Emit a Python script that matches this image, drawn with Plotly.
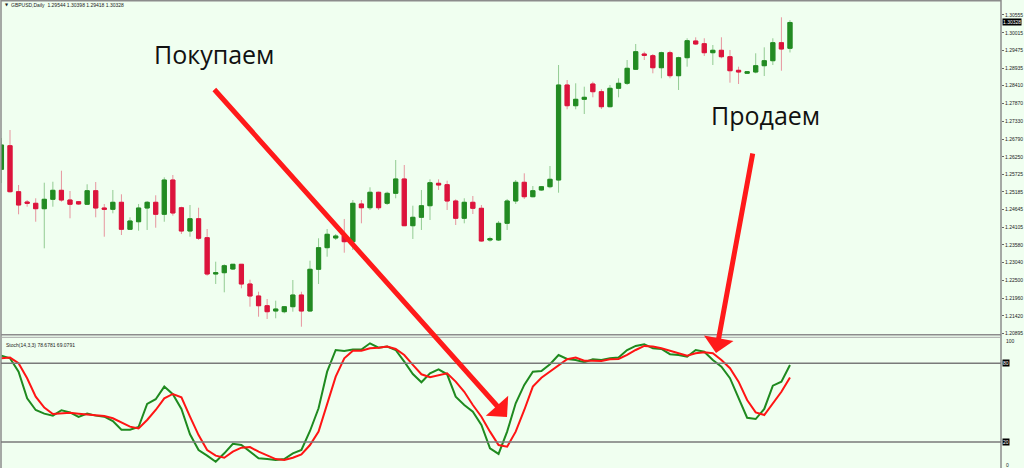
import plotly.graph_objects as go

# ---------------- data ----------------
idx = list(range(93))

opens = [1.25872, 1.26588, 1.25192, 1.24879, 1.24840, 1.24676, 1.24961, 1.25234, 1.24940, 1.24889,
         1.24810, 1.25222, 1.24697, 1.24658, 1.24870, 1.24051, 1.24281, 1.24697, 1.24870, 1.24506,
         1.25547, 1.24706, 1.23999, 1.24372, 1.23796, 1.22694, 1.22734, 1.22846, 1.22989, 1.22391,
         1.22027, 1.21732, 1.21571, 1.21550, 1.21702, 1.22057, 1.21571, 1.22837, 1.23493, 1.23787,
         1.23848, 1.23675, 1.24819, 1.24706, 1.25174, 1.24840, 1.25143, 1.25578, 1.24160, 1.24415,
         1.24767, 1.25447, 1.25405, 1.24910, 1.24385, 1.24870, 1.24688, 1.23726, 1.23726, 1.24233,
         1.24910, 1.25477, 1.25040, 1.25244, 1.25344, 1.25547, 1.28430, 1.27802, 1.27996, 1.28461,
         1.28227, 1.27772, 1.28330, 1.28482, 1.28907, 1.29371, 1.29320, 1.28955, 1.29411, 1.28713,
         1.29259, 1.29766, 1.29684, 1.29411, 1.29483, 1.29289, 1.28876, 1.28785, 1.28825, 1.29016,
         1.29168, 1.29714, 1.29544]

highs = [1.26822, 1.27064, 1.25395, 1.24940, 1.24992, 1.25465, 1.25495, 1.25829, 1.25213, 1.24910,
         1.25417, 1.25486, 1.24819, 1.25244, 1.25113, 1.24415, 1.24819, 1.24910, 1.25083, 1.25629,
         1.25699, 1.24737, 1.24788, 1.24706, 1.24060, 1.23068, 1.22989, 1.22998, 1.22998, 1.22521,
         1.22157, 1.21936, 1.21884, 1.21710, 1.22512, 1.22157, 1.23098, 1.23778, 1.24060, 1.23908,
         1.24364, 1.24940, 1.24940, 1.25326, 1.25192, 1.25192, 1.26154, 1.26002, 1.24767, 1.25244,
         1.25568, 1.25568, 1.25526, 1.24961, 1.24992, 1.25062, 1.24788, 1.23826, 1.24303, 1.24971,
         1.25547, 1.25750, 1.25365, 1.25360, 1.25972, 1.29037, 1.28582, 1.28482, 1.28379, 1.28530,
         1.28300, 1.28430, 1.28634, 1.29189, 1.29675, 1.29441, 1.29371, 1.29441, 1.29471, 1.29289,
         1.29848, 1.29878, 1.29848, 1.29644, 1.29878, 1.29493, 1.28986, 1.28850, 1.29392, 1.29574,
         1.29848, 1.30485, 1.30398]

lows = [1.25456, 1.25168, 1.24506, 1.24737, 1.24281, 1.23474, 1.24737, 1.24889, 1.24385, 1.24798,
        1.24788, 1.24415, 1.23826, 1.24536, 1.23878, 1.24030, 1.24008, 1.24030, 1.24099, 1.24281,
        1.24464, 1.23908, 1.23826, 1.23726, 1.22643, 1.22391, 1.22139, 1.22816, 1.22260, 1.21702,
        1.21398, 1.21329, 1.21350, 1.21502, 1.21550, 1.21095, 1.21550, 1.22391, 1.23219, 1.23726,
        1.23341, 1.23423, 1.24233, 1.24637, 1.24637, 1.24788, 1.24992, 1.24150, 1.23757, 1.24030,
        1.24333, 1.25244, 1.24637, 1.24181, 1.24233, 1.24515, 1.23675, 1.23675, 1.23696, 1.24030,
        1.24819, 1.24971, 1.25022, 1.25222, 1.25295, 1.25162, 1.27693, 1.27693, 1.27550, 1.28057,
        1.27702, 1.27754, 1.28057, 1.28430, 1.28886, 1.29189, 1.28785, 1.28634, 1.28634, 1.28279,
        1.28986, 1.29644, 1.29310, 1.29037, 1.29241, 1.28500, 1.28461, 1.28764, 1.28785, 1.28703,
        1.29037, 1.28864, 1.29418]

closes = [1.26609, 1.25192, 1.24788, 1.24840, 1.24676, 1.24961, 1.25234, 1.24940, 1.24810, 1.24819,
          1.25222, 1.24697, 1.24658, 1.24870, 1.24051, 1.24303, 1.24697, 1.24870, 1.24506, 1.25547,
          1.24546, 1.23999, 1.24372, 1.23778, 1.22694, 1.22734, 1.22946, 1.22989, 1.22391, 1.22027,
          1.21732, 1.21550, 1.21632, 1.21702, 1.22057, 1.21571, 1.22837, 1.23493, 1.23899, 1.23848,
          1.23675, 1.24840, 1.24706, 1.25174, 1.24706, 1.25143, 1.25578, 1.24160, 1.24415, 1.24767,
          1.25465, 1.25395, 1.24910, 1.24385, 1.24870, 1.24688, 1.23696, 1.23766, 1.24233, 1.24910,
          1.25477, 1.25040, 1.25222, 1.25344, 1.25568, 1.28430, 1.27802, 1.27996, 1.28057, 1.28227,
          1.27772, 1.28330, 1.28482, 1.28937, 1.29441, 1.29332, 1.28955, 1.29411, 1.28713, 1.29259,
          1.29775, 1.29675, 1.29411, 1.29483, 1.29289, 1.28864, 1.28825, 1.28834, 1.29016, 1.29168,
          1.29714, 1.29523, 1.30328]

stoch_k = [85.8, 83.8, 73.6, 53.3, 44.4, 41.6, 40.1, 44.2, 42.6, 39.1,
           41.6, 40.1, 39.3, 36.0, 29.4, 29.4, 31.4, 49.0, 52.6, 62.2,
           56.4, 45.2, 25.9, 13.9, 9.6, 5.0, 11.4, 18.7, 17.7, 12.9,
           7.6, 7.0, 6.3, 7.0, 11.4, 13.9, 28.4, 45.7, 73.6, 90.1,
           89.4, 90.4, 90.4, 95.2, 91.9, 92.7, 90.1, 81.2, 71.8, 65.5,
           72.4, 75.4, 71.6, 54.5, 48.2, 43.1, 33.0, 15.2, 10.9, 27.9,
           49.5, 63.5, 73.6, 74.1, 79.2, 86.3, 83.3, 82.5, 80.8, 83.0,
           82.5, 83.8, 84.3, 90.1, 93.2, 94.5, 91.4, 90.9, 86.9, 86.3,
           85.0, 90.1, 88.8, 82.5, 77.4, 68.6, 53.3, 38.5, 37.5, 45.2,
           62.9, 66.0, 78.68]

stoch_d = [83.8, 84.3, 80.0, 68.6, 54.5, 46.2, 41.3, 41.6, 42.3, 41.6,
           41.1, 40.1, 39.8, 38.1, 35.0, 31.7, 30.4, 36.8, 44.4, 53.3,
           56.6, 54.1, 39.3, 25.3, 13.9, 9.6, 8.0, 12.6, 15.7, 16.2,
           12.6, 9.6, 7.0, 6.3, 8.0, 10.6, 17.7, 27.9, 49.5, 69.8,
           83.8, 89.6, 89.6, 91.4, 91.9, 92.7, 90.9, 86.3, 78.7, 71.6,
           69.3, 71.1, 72.4, 66.0, 58.3, 48.2, 39.3, 27.9, 17.7, 16.4,
           27.9, 44.4, 62.2, 69.0, 73.6, 78.7, 83.0, 84.3, 82.0, 82.0,
           81.8, 83.0, 83.3, 86.3, 90.1, 93.2, 92.7, 91.4, 89.4, 87.6,
           85.8, 87.6, 88.4, 87.6, 82.5, 76.2, 66.0, 52.0, 42.6, 40.6,
           49.5, 58.3, 69.08]

price_ticks = [1.30555, 1.30015, 1.29475, 1.28935, 1.28410, 1.27870, 1.27330, 1.26790,
               1.26250, 1.25725, 1.25185, 1.24645, 1.24105, 1.23580, 1.23040, 1.22500,
               1.21960, 1.21420, 1.20895]
price_tick_text = ["%.5f" % v for v in price_ticks]

stoch_levels = [80, 20]
title_text = "GBPUSD,Daily  1.29544 1.30398 1.29418 1.30328"
stoch_text = "Stoch(14,3,3) 78.6781 69.0791"
buy_text = "Покупаем"
sell_text = "Продаем"

# ---------------- colours ----------------
BG = "#F0FFF0"
UP = "#228B22"
DN = "#DC143C"

body_hi = [max(o, c) for o, c in zip(opens, closes)]
body_lo = [min(o, c) for o, c in zip(opens, closes)]

fig = go.Figure()

# wicks (light)
fig.add_trace(go.Candlestick(
    x=idx, open=opens, high=highs, low=lows, close=closes,
    increasing=dict(line=dict(color="rgba(34,139,34,0.45)", width=1), fillcolor="rgba(0,0,0,0)"),
    decreasing=dict(line=dict(color="rgba(220,20,60,0.45)", width=1), fillcolor="rgba(0,0,0,0)"),
    whiskerwidth=0, hoverinfo="skip", xaxis="x", yaxis="y"))
# bodies (solid)
fig.add_trace(go.Candlestick(
    x=idx, open=opens, high=body_hi, low=body_lo, close=closes,
    increasing=dict(line=dict(color=UP, width=1), fillcolor=UP),
    decreasing=dict(line=dict(color=DN, width=1), fillcolor=DN),
    whiskerwidth=0, hoverinfo="skip", xaxis="x", yaxis="y"))

fig.add_trace(go.Scatter(x=idx, y=stoch_k, mode="lines",
                         line=dict(color="#1F8A1F", width=2), xaxis="x", yaxis="y2"))
fig.add_trace(go.Scatter(x=idx, y=stoch_d, mode="lines",
                         line=dict(color="#FF1414", width=2), xaxis="x", yaxis="y2"))

H = 468.0
def py(p):
    return 1 - p / H
def px(p):
    return (p - 1) / 1000.0

shapes = []
# frame lines
shapes.append(dict(type="line", xref="paper", yref="paper", x0=1.0, x1=1.0, y0=0, y1=1,
                   line=dict(color="#8C8C8C", width=1.5)))
shapes.append(dict(type="line", xref="paper", yref="paper", x0=0.0, x1=0.0, y0=0, y1=1,
                   line=dict(color="#8C8C8C", width=1.5)))
shapes.append(dict(type="line", xref="paper", yref="paper", x0=0, x1=1, y0=py(0.8), y1=py(0.8),
                   line=dict(color="#8C8C8C", width=1.5)))
shapes.append(dict(type="line", xref="paper", yref="paper", x0=0, x1=1, y0=py(334.8), y1=py(334.8),
                   line=dict(color="#8C8C8C", width=1.5)))
shapes.append(dict(type="line", xref="paper", yref="paper", x0=0, x1=1, y0=py(337.3), y1=py(337.3),
                   line=dict(color="#A8A8A8", width=1)))
for lv in stoch_levels:
    shapes.append(dict(type="line", xref="paper", yref="y2", x0=0, x1=1, y0=lv, y1=lv,
                       line=dict(color="#7A7A7A", width=1.5)))

small = dict(family="Liberation Sans", size=5, color="#222222")
annotations = [
    dict(text=title_text, xref="paper", yref="paper", x=px(9), y=py(5), xanchor="left",
         yanchor="middle", showarrow=False, font=small),
    dict(text="▼", xref="paper", yref="paper", x=px(3), y=py(5), xanchor="left",
         yanchor="middle", showarrow=False, font=dict(family="DejaVu Sans", size=4, color="#222")),
    dict(text=stoch_text, xref="paper", yref="paper", x=px(4), y=py(345), xanchor="left",
         yanchor="middle", showarrow=False, font=small),
    dict(text="100", xref="paper", yref="paper", x=px(1004), y=py(340.5), xanchor="left",
         yanchor="middle", showarrow=False, font=small),
    dict(text="0", xref="paper", yref="paper", x=px(1004), y=py(465), xanchor="left",
         yanchor="middle", showarrow=False, font=small),
    dict(text="1.30328", xref="paper", yref="y", x=px(1002), y=closes[-1], xanchor="left",
         yanchor="middle", showarrow=False, bgcolor="#000000", borderpad=0,
         font=dict(family="Liberation Sans", size=5, color="#FFFFFF")),
    dict(text=buy_text, xref="paper", yref="paper", x=px(213.5), y=py(54), xanchor="center",
         yanchor="middle", showarrow=False, font=dict(family="Open Sans", size=25, color="#111111")),
    dict(text=sell_text, xref="paper", yref="paper", x=px(765.5), y=py(115), xanchor="center",
         yanchor="middle", showarrow=False, font=dict(family="Open Sans", size=25, color="#111111")),
    # arrows
    dict(text="", xref="paper", yref="paper", x=px(507), y=py(417), ax=213 - 507, ay=88 - 417,
         axref="pixel", ayref="pixel", showarrow=True, arrowhead=1, arrowsize=1.0,
         arrowwidth=5, arrowcolor="#FF1A1A", standoff=0),
    dict(text="", xref="paper", yref="paper", x=px(716), y=py(353), ax=753 - 716, ay=152 - 353,
         axref="pixel", ayref="pixel", showarrow=True, arrowhead=1, arrowsize=1.0,
         arrowwidth=5, arrowcolor="#FF1A1A", standoff=0),
]
for lv in stoch_levels:
    annotations.append(dict(text=str(lv), xref="paper", yref="y2", x=px(1002), y=lv,
                            xanchor="left", yanchor="middle", showarrow=False,
                            bgcolor="#000000", borderpad=0,
                            font=dict(family="Liberation Sans", size=5, color="#FFFFFF")))

fig.update_layout(
    width=1024, height=468,
    margin=dict(l=1, r=23, t=0, b=0, autoexpand=False),
    paper_bgcolor=BG, plot_bgcolor=BG,
    showlegend=False,
    xaxis=dict(range=[-0.05, 116.62], visible=False, rangeslider=dict(visible=False),
               showgrid=False, zeroline=False),
    yaxis=dict(domain=[1 - 335.0 / H, 1], range=[1.20843, 1.31010], side="right",
               tickvals=price_ticks, ticktext=price_tick_text, showgrid=False, zeroline=False,
               ticks="outside", ticklen=2, tickcolor="#666666", tickfont=small,
               showline=False, automargin=False),
    yaxis2=dict(domain=[0, 1 - 337.0 / H], range=[0.2, 100], side="right", anchor="x",
                showticklabels=False, showgrid=False, zeroline=False, showline=False,
                automargin=False),
    shapes=shapes, annotations=annotations,
)

fig.write_html("out.html", config={"displayModeBar": False},
               post_script="document.body.style.margin='0px';document.body.style.overflow='hidden';")
